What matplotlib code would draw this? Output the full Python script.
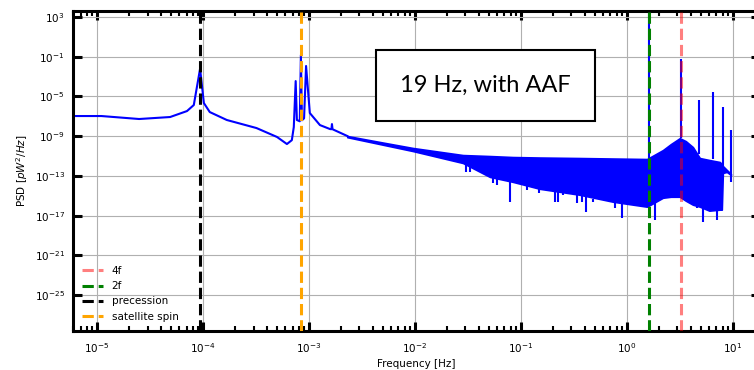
import numpy as np
import matplotlib
matplotlib.use('Agg')
from matplotlib import pyplot as plt
from matplotlib.patches import Rectangle
from matplotlib.ticker import NullLocator

# smooth low-frequency part of the PSD (frequency in Hz, log10 of PSD)
freq_smooth = [5.0e-6, 1.1e-5, 2.5e-5, 4.9e-5, 7.07e-5, 8.2e-5, 9.4e-5, 1.02e-4,
               1.16e-4, 1.68e-4, 3.2e-4, 5.0e-4, 6.2e-4, 6.9e-4, 7.2e-4, 7.5e-4,
               7.7e-4, 8.2e-4, 8.4e-4, 8.6e-4, 9.0e-4, 9.4e-4, 1.02e-3, 1.27e-3,
               1.58e-3, 1.63e-3, 1.65e-3, 1.67e-3, 2.3e-3]
logpsd_smooth = [-6.97, -6.97, -7.27, -7.07, -6.47, -5.86, -2.2, -5.66,
                 -6.57, -7.37, -8.18, -9.08, -9.79, -9.4, -8.08, -3.45,
                 -7.37, -7.5, -0.83, -7.4, -7.2, -1.93, -6.67, -7.88,
                 -8.28, -8.3, -7.78, -8.3, -8.98]

# noisy high-frequency band: upper and lower envelope (log10 PSD)
freq_band = [2.3e-3, 4.7e-3, 9.6e-3, 0.0284, 0.051, 0.0841, 0.151, 0.36,
             0.74, 1.55, 2.19, 2.6, 3.16, 3.6, 4.2, 4.88, 6.0, 7.53, 7.87,
             8.05, 8.77, 9.6]
band_upper = [-8.98, -9.59, -10.19, -10.9, -11.0, -11.1, -11.15, -11.2,
              -11.25, -11.3, -10.4, -9.8, -9.2, -9.5, -10.1, -11.2, -11.4, -11.6,
              -11.8, -12.0, -12.4, -12.8]
band_lower = [-9.1, -9.8, -10.5, -11.7, -13.1, -13.6, -14.3, -14.9,
              -15.6, -16.1, -15.2, -15.1, -15.1, -15.5, -15.9, -16.1, -16.5, -16.4,
              -16.4, -12.7, -12.6, -12.9]

# narrow lines sticking out of the band
spike_freq = [1.61, 3.23, 4.78, 6.47, 8.05, 9.57]
spike_base = [-11.2, -9.2, -10.8, -11.3, -12.0, -13.6]
spike_top = [3.7, -1.23, -5.36, -4.55, -6.06, -8.38]

dip_freq = [0.0303, 0.033, 0.0545, 0.0594, 0.0787, 0.114, 0.148, 0.209,
            0.223, 0.249, 0.337, 0.376, 0.41, 0.478, 0.77, 0.898, 1.84,
            4.57, 5.21, 7.06]
dip_bottom = [-12.6, -12.6, -13.7, -13.9, -15.6, -14.4, -14.7, -15.6,
              -15.6, -14.9, -15.7, -15.6, -16.6, -15.6, -16.2, -17.2, -17.4,
              -16.2, -17.6, -17.4]
dip_base = [-11.5, -11.6, -12.6, -12.8, -13.2, -13.8, -14.0, -14.5,
            -14.6, -14.6, -14.9, -15.0, -15.1, -15.3, -15.5, -15.7, -15.4,
            -15.7, -15.9, -16.3]

# marker frequencies
markers = ['4f', '2f', 'precession', 'satellite spin']
marker_freq = [3.23, 1.61, 9.4e-5, 8.4e-4]
marker_color = ['red', 'green', 'black', 'orange']
marker_alpha = [0.5, 1.0, 1.0, 1.0]

x_ticks = [-5, -4, -3, -2, -1, 0, 1]
y_ticks = [3, -1, -5, -9, -13, -17, -21, -25]

plt.rcParams['font.size'] = 7.5
fig = plt.figure(figsize=(7.54, 3.70), dpi=100)
ax = fig.add_axes([0.0968, 0.1054, 0.911, 0.866])

ax.plot(freq_smooth, 10.0 ** np.array(logpsd_smooth), c='blue', lw=1.5, zorder=2)
ax.fill_between(freq_band, 10.0 ** np.array(band_lower), 10.0 ** np.array(band_upper),
                color='blue', lw=1.2, zorder=2)
ax.vlines(spike_freq, 10.0 ** np.array(spike_base), 10.0 ** np.array(spike_top),
          color='blue', lw=1.5, zorder=2)
ax.vlines(dip_freq, 10.0 ** np.array(dip_bottom), 10.0 ** np.array(dip_base),
          color='blue', lw=1.5, zorder=2)

for name, f, c, a in zip(markers, marker_freq, marker_color, marker_alpha):
    ax.axvline(f, color=c, alpha=a, ls='--', lw=2.2, label=name, zorder=3)

ax.set_xscale('log')
ax.set_yscale('log')
ax.set_xlim(5.94e-6, 18.0)
ax.set_ylim(10 ** -28.62, 10 ** 3.65)
ax.set_xticks([10.0 ** t for t in x_ticks])
ax.set_yticks([10.0 ** t for t in y_ticks])
ax.yaxis.set_minor_locator(NullLocator())
ax.grid(True, which='major', color='#b0b0b0', lw=0.8)

ax.tick_params(which='major', direction='in', top=True, right=True,
               length=6.5, width=2.2, labelsize=7.5)
ax.tick_params(which='minor', direction='in', top=True, right=True,
               length=3.5, width=1.5)
ax.tick_params(axis='x', which='major', pad=7.5)
ax.tick_params(axis='y', which='major', pad=6)
for s in ax.spines.values():
    s.set_linewidth(2.2)

ax.set_xlabel('Frequency [Hz]', fontsize=7.5, labelpad=3)
ax.set_ylabel('PSD [$pW^2/Hz$]', fontsize=7.5, labelpad=3)
ax.legend(loc='lower left', frameon=False, fontsize=7.5)

ax.add_patch(Rectangle((0.441, 0.655), 0.319, 0.2215, transform=ax.transAxes,
                       facecolor='white', edgecolor='black', lw=1.5, zorder=5))
ax.text(0.600, 0.766, '19 Hz, with AAF', transform=ax.transAxes, ha='center',
        va='center', fontsize=17, family='Lato', zorder=6)

fig.savefig('out.png', dpi=100)
